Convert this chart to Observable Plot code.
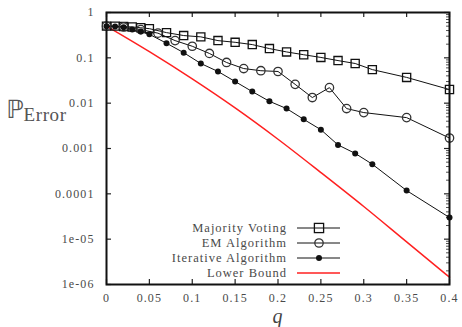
<!DOCTYPE html>
<html>
<head>
<meta charset="utf-8">
<script src="https://cdn.jsdelivr.net/npm/d3@7"></script>
<script src="https://cdn.jsdelivr.net/npm/@observablehq/plot@0.6"></script>
<style>
  html, body { margin: 0; padding: 0; background: #fff; }
  #chart svg { display: block; }
</style>
</head>
<body>
<div id="chart"></div>
<script>
// ---- data ----
const seriesNames = ["Majority Voting", "EM Algorithm", "Iterative Algorithm", "Lower Bound"];

const majorityQ = [0, 0.01, 0.02, 0.03, 0.04, 0.05, 0.07, 0.09, 0.11, 0.13, 0.15, 0.17, 0.19, 0.21, 0.23, 0.25, 0.27, 0.29, 0.31, 0.35, 0.4];
const majorityP = [0.5, 0.5, 0.49, 0.48, 0.46, 0.44, 0.36, 0.31, 0.29, 0.24, 0.22, 0.196, 0.16, 0.135, 0.117, 0.102, 0.087, 0.075, 0.055, 0.037, 0.020];

const emQ = [0, 0.02, 0.04, 0.06, 0.08, 0.1, 0.12, 0.14, 0.16, 0.18, 0.2, 0.22, 0.24, 0.26, 0.28, 0.3, 0.35, 0.4];
const emP = [0.5, 0.48, 0.42, 0.35, 0.24, 0.18, 0.125, 0.079, 0.058, 0.052, 0.050, 0.026, 0.0133, 0.022, 0.0076, 0.0062, 0.0048, 0.0017];

const iterQ = [0, 0.01, 0.02, 0.03, 0.04, 0.05, 0.07, 0.09, 0.11, 0.13, 0.15, 0.17, 0.19, 0.21, 0.23, 0.25, 0.27, 0.29, 0.31, 0.35, 0.4];
const iterP = [0.5, 0.49, 0.47, 0.42, 0.38, 0.33, 0.21, 0.13, 0.075, 0.050, 0.030, 0.018, 0.011, 0.0076, 0.0044, 0.0026, 0.0012, 0.00078, 0.00045, 0.000118, 0.000030];

const boundQ = [0, 0.05, 0.1, 0.15, 0.2, 0.25, 0.3, 0.35, 0.4];
const boundP = [0.5, 0.1365, 0.0343, 0.00785, 0.0016, 0.000295, 5.25e-5, 8.7e-6, 1.45e-6];

const xTicks = [0, 0.05, 0.1, 0.15, 0.2, 0.25, 0.3, 0.35, 0.4];
const xTickLabels = ["0", "0.05", "0.1", "0.15", "0.2", "0.25", "0.3", "0.35", "0.4"];
const yTicks = [1e-6, 1e-5, 1e-4, 1e-3, 1e-2, 1e-1, 1];
const yTickLabels = ["1e-06", "1e-05", "0.0001", "0.001", "0.01", "0.1", "1"];
const yMinorTicks = [];
for (let e = -6; e < 0; e++) for (let m = 2; m <= 9; m++) yMinorTicks.push(m * Math.pow(10, e));

const xLabel = "q";
const yLabelMain = "ℙ";
const yLabelSub = "Error";

const toRows = (qs, ps) => qs.map((q, i) => ({q, p: ps[i]}));
const majority = toRows(majorityQ, majorityP);
const em = toRows(emQ, emP);
const iter = toRows(iterQ, iterP);
const bound = toRows(boundQ, boundP);

const W = 462, H = 327;
const mL = 106, mR = 13, mT = 12, mB = 43;
const innerW = W - mL - mR, innerH = H - mT - mB;
const tickLen = 5, minorLen = 3;

const serif = "'Liberation Serif', 'Times New Roman', Times, serif";
const textColor = "#4a4a4a";

const chart = Plot.plot({
  width: W,
  height: H,
  marginLeft: mL,
  marginRight: mR,
  marginTop: mT,
  marginBottom: mB,
  style: {fontFamily: serif, fontSize: "12px", color: textColor, background: "#fff"},
  x: {domain: [0, 0.4]},
  y: {type: "log", domain: [1e-6, 1]},
  marks: [
    Plot.axisX({ticks: xTicks, tickSize: 0, tickPadding: 9, tickFormat: d => xTickLabels[xTicks.indexOf(d)], label: null, fill: textColor}),
    Plot.axisY({ticks: yTicks, tickSize: 0, tickPadding: 12, tickFormat: d => yTickLabels[yTicks.indexOf(d)], label: null, fill: textColor}),
    // inward ticks on all four sides
    Plot.tickX(xTicks, {x: d => d, insetTop: innerH - tickLen, stroke: "#222", strokeWidth: 1.2}),
    Plot.tickX(xTicks, {x: d => d, insetBottom: innerH - tickLen, stroke: "#222", strokeWidth: 1.2}),
    Plot.tickY(yTicks, {y: d => d, insetRight: innerW - tickLen, stroke: "#222", strokeWidth: 1.2}),
    Plot.tickY(yTicks, {y: d => d, insetLeft: innerW - tickLen, stroke: "#222", strokeWidth: 1.2}),
    Plot.tickY(yMinorTicks, {y: d => d, insetLeft: innerW - minorLen, stroke: "#222", strokeWidth: 0.8}),
    // series
    Plot.line(bound, {x: "q", y: "p", stroke: "#ff2020", strokeWidth: 1.5, curve: "monotone-x"}),
    Plot.line(majority, {x: "q", y: "p", stroke: "#111", strokeWidth: 1}),
    Plot.line(em, {x: "q", y: "p", stroke: "#111", strokeWidth: 1}),
    Plot.line(iter, {x: "q", y: "p", stroke: "#111", strokeWidth: 1}),
    Plot.dot(majority, {x: "q", y: "p", symbol: "square", r: 4.6, stroke: "#111", strokeWidth: 1.3, fill: "none"}),
    Plot.dot(em, {x: "q", y: "p", symbol: "circle", r: 4.2, stroke: "#333", strokeWidth: 1.3, fill: "none"}),
    Plot.dot(iter, {x: "q", y: "p", symbol: "circle", r: 3, fill: "#111", stroke: "none"}),
    Plot.frame({stroke: "#111", strokeWidth: 2})
  ]
});

document.getElementById("chart").appendChild(chart);

const svg = d3.select(chart);

// tick label letter spacing like the reference
svg.selectAll("[aria-label^='x-axis tick label'] text, [aria-label^='y-axis tick label'] text")
  .attr("letter-spacing", "1.1px");

// y axis title: double-struck P with subscript
const yt = svg.append("text")
  .attr("x", 6).attr("y", 118)
  .attr("text-anchor", "start")
  .attr("fill", "#555")
  .attr("font-family", serif);
yt.append("tspan").attr("font-size", "25px").attr("font-family", "'DejaVu Sans', serif").text(yLabelMain);
yt.append("tspan").attr("font-size", "19px").attr("dy", "3").attr("letter-spacing", "0.6px").text(yLabelSub);

// x axis title
svg.append("text")
  .attr("x", mL + innerW * 0.5).attr("y", 323)
  .attr("text-anchor", "middle")
  .attr("font-family", serif)
  .attr("font-style", "italic")
  .attr("font-size", "20px")
  .attr("fill", "#444")
  .text(xLabel);

// legend inside the plot (bottom centre)
const legendX = 287, lineX1 = 297, lineX2 = 340, markX = 319;
const rowsY = [228, 243, 258, 273];
seriesNames.forEach((name, i) => {
  const y = rowsY[i];
  svg.append("text")
    .attr("x", legendX).attr("y", y).attr("dy", "0.35em")
    .attr("text-anchor", "end")
    .attr("font-family", serif).attr("font-size", "12.5px")
    .attr("letter-spacing", "1px")
    .attr("fill", textColor)
    .text(name);
  svg.append("line")
    .attr("x1", lineX1).attr("x2", lineX2).attr("y1", y).attr("y2", y)
    .attr("stroke", i === 3 ? "#ff2020" : "#111")
    .attr("stroke-width", i === 3 ? 1.5 : 1);
  if (i === 0) {
    svg.append("rect").attr("x", markX - 4.6).attr("y", y - 4.6).attr("width", 9.2).attr("height", 9.2)
      .attr("fill", "none").attr("stroke", "#111").attr("stroke-width", 1.3);
  } else if (i === 1) {
    svg.append("circle").attr("cx", markX).attr("cy", y).attr("r", 4.2)
      .attr("fill", "none").attr("stroke", "#333").attr("stroke-width", 1.3);
  } else if (i === 2) {
    svg.append("circle").attr("cx", markX).attr("cy", y).attr("r", 3).attr("fill", "#111");
  }
});
</script>
</body>
</html>
